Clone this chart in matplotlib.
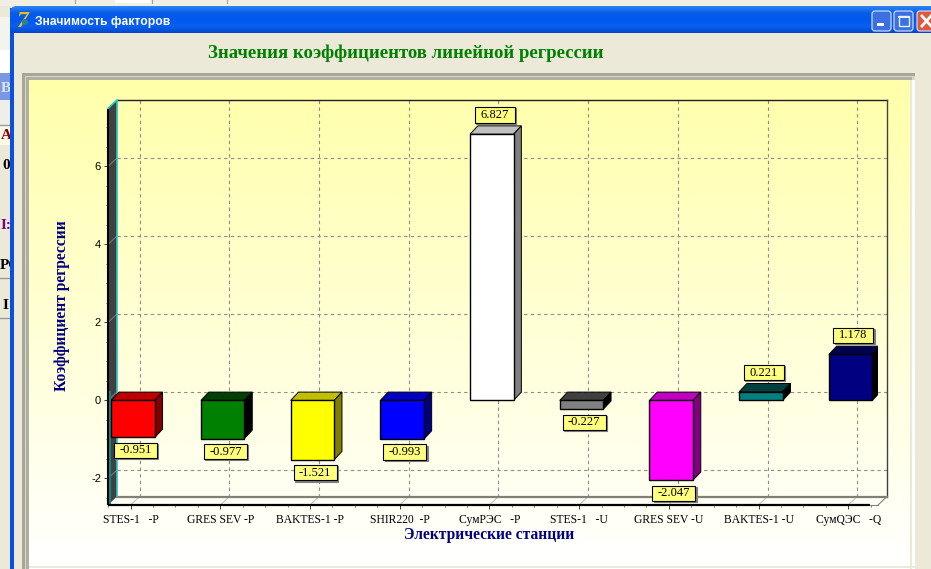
import numpy as np
import matplotlib
matplotlib.use("Agg")
import matplotlib.pyplot as plt
from matplotlib.patches import Polygon, Rectangle, FancyBboxPatch, Circle
from matplotlib.colors import LinearSegmentedColormap
from matplotlib.ticker import MultipleLocator

plt.rcParams['font.family'] = ['Liberation Serif', 'DejaVu Serif']
plt.rcParams['axes.unicode_minus'] = False

# ---- data ----
categories = ['STES-1   -P', 'GRES SEV -P', 'BAKTES-1 -P', 'SHIR220  -P', 'СумРЭС   -P',
              'STES-1   -U', 'GRES SEV -U', 'BAKTES-1 -U', 'СумQЭС   -Q']
values = [-0.951, -0.977, -1.521, -0.993, 6.827, -0.227, -2.047, 0.221, 1.178]
labels = ['-0.951', '-0.977', '-1.521', '-0.993', '6.827', '-0.227', '-2.047', '0.221', '1.178']
front_colors = ['#FF0000', '#008000', '#FFFF00', '#0000FF', '#FFFFFF', '#808080', '#FF00FF', '#008080', '#000080']
top_colors = ['#C00000', '#004000', '#C0C000', '#0000C0', '#C0C0C0', '#404040', '#C000C0', '#004040', '#000050']
side_colors = ['#800000', '#000000', '#808000', '#000080', '#808080', '#000000', '#800080', '#000000', '#000000']
y_ticks = [-2, 0, 2, 4, 6]

W, H = 931, 569
fig = plt.figure(figsize=(W / 100, H / 100), dpi=100)
fig.patch.set_facecolor('#ECE9D8')

# ---- window chrome, in pixel coordinates ----
bg = fig.add_axes([0, 0, 1, 1], zorder=0)
bg.set_axis_off()


def rect(x0, y0, x1, y1, color, z=1, **kw):
    bg.add_patch(Rectangle((x0, y0), x1 - x0, y1 - y0, fc=color, ec='none', zorder=z, **kw))


# what shows of the application behind the window
rect(0, 0, 931, 6, '#F1EFE4', 1)
rect(115, 0, 150, 3, '#FFFFFF', 1)
for xv, yv in [(75, 3), (152, 3), (227, 3)]:
    bg.plot([xv, xv], [0, yv], color='#A0A0A0', lw=0.8, zorder=2)
rect(0, 17, 10, 50, '#F3F3F0', 1)
rect(0, 50, 10, 73, '#FFFFFF', 1)
rect(0, 73, 10, 100, '#7C97E2', 1)
rect(0, 100, 10, 125, '#EFEFEA', 1)
rect(0, 125, 10, 145, '#FFFBE6', 1)
for yv in (125, 278, 318):
    bg.plot([0, 10], [yv, yv], color='#9A9A90', lw=1, zorder=2)
for s, x, y, c in [('Ba', 1, 88, '#DDE6FF'), ('AF', 1, 135, '#8B0000'), ('0', 2, 165, 'black'),
                   ('I:', 1, 225, '#800080'), ('PC', 0, 265, 'black'), ('I', 3, 305, 'black')]:
    bg.text(x, y, s, color=c, fontsize=11, fontweight='bold', va='center', ha='left', zorder=2)

# window body
rect(10, 8, 931, 569, '#0A50E0', 3)
rect(14, 33, 931, 569, '#ECE9D8', 4)

# title bar gradient
bar_cm = LinearSegmentedColormap.from_list('bar', ['#2C86F5', '#0A5CE8', '#0058EE', '#0A60F0', '#0048CC'])
tb = bg.imshow(np.linspace(0, 1, 64)[:, None], cmap=bar_cm, extent=(10, 931, 33, 6), aspect='auto', zorder=5)
tb.set_clip_path(FancyBboxPatch((12, 8), 940, 40, boxstyle='round,pad=2,rounding_size=7',
                                transform=bg.transData))
# icon
bg.text(23, 21, '7', color='#E0C020', fontsize=17, fontweight='bold', style='italic',
        ha='center', va='center', zorder=6)
bg.add_patch(Circle((25, 22), 3, fc='#2F7F86', ec='none', zorder=7))
bg.text(35, 22, 'Значимость факторов', color='white', fontsize=8.7,
        family=['Liberation Sans', 'DejaVu Sans'], fontweight='bold', va='center', ha='left', zorder=6)


def button(x0, x1, face):
    bg.add_patch(FancyBboxPatch((x0 + 1, 12), x1 - x0 - 2, 18, boxstyle='round,pad=1,rounding_size=3',
                                fc=face, ec='#C8D8F8', lw=0.9, zorder=6))


button(872, 891, '#3C6FE0')
button(894, 913, '#3C6FE0')
button(917, 937, '#E0593A')
rect(877, 23, 884, 26, 'white', 7)
bg.add_patch(Rectangle((898.5, 16), 10.5, 10, fc='none', ec='#E8F0FF', lw=1, zorder=7))
rect(898, 16, 910, 18, '#E8F0FF', 7)
bg.plot([922, 931], [16, 26], color='white', lw=2, zorder=7)
bg.plot([922, 931], [26, 16], color='white', lw=2, zorder=7)

# chart panel frame and gradient
rect(22, 73, 915, 569, '#A8A698', 5)
rect(25, 76, 915, 569, '#D8D6C8', 5)
rect(26, 77, 912, 569, '#B0AE9F', 5)
rect(29, 80, 915, 569, '#FFFFFF', 6)
panel_cm = LinearSegmentedColormap.from_list('panel', ['#FFFFAA', '#FFFFFF'])
bg.imshow(np.linspace(0, 1, 256)[:, None], cmap=panel_cm, extent=(29, 910, 566, 80), aspect='auto', zorder=7)
rect(910, 80, 912, 569, '#ECE9D8', 7)
rect(29, 566, 915, 568, '#ECE9D8', 7)

bg.text(405.5, 53, 'Значения коэффициентов линейной регрессии', color='#008000', fontsize=13.5,
        fontweight='bold', ha='center', va='center', zorder=8)
bg.set_xlim(0, W)
bg.set_ylim(H, 0)

# ---- chart: front plane carries the value scale, back plane is shifted by the depth ----
PX_X, PX_Y = 89.7, 39.0      # pixels per category / per unit
ax = fig.add_axes([108 / W, (H - 505) / H, 770 / W, 396.5 / H], zorder=2)
ax.patch.set_alpha(0)
ax.set_xlim(-0.252, 8.332)
ax.set_ylim(-2.682, 7.485)
for s in ax.spines.values():
    s.set_visible(False)
DX, DY = 9 / PX_X, 8.5 / PX_Y
x0, x1 = ax.get_xlim()
y0, y1 = ax.get_ylim()

# walls
ax.add_patch(Polygon([(x0, y0), (x1, y0), (x1 + DX, y0 + DY), (x0 + DX, y0 + DY)], fc='#FFFFF4', ec='none',
                     clip_on=False, zorder=1))
ax.add_patch(Polygon([(x0, y0), (x0, y1), (x0 + DX, y1 + DY), (x0 + DX, y0 + DY)], fc='#404040', ec='none',
                     clip_on=False, zorder=3))

# grid on the back plane
grid = dict(color='#8C8C8C', lw=0.8, dashes=(3, 3), clip_on=False, zorder=2)
for t in y_ticks:
    ax.plot([x0 + DX, x1 + DX], [t + DY, t + DY], **grid)
    ax.plot([x0, x0 + DX], [t, t + DY], color='#808080', lw=0.7, clip_on=False, zorder=4)
for i in range(len(categories)):
    ax.plot([i + DX, i + DX], [y0 + DY, y1 + DY], **grid)
    ax.plot([i, i + DX], [y0, y0 + DY], color='#C0C0C0', lw=0.7, clip_on=False, zorder=2)

# frame lines
ax.plot([x0 + DX, x1 + DX], [y1 + DY, y1 + DY], color='#202020', lw=1.0, clip_on=False, zorder=2)
ax.plot([x1 + DX, x1 + DX], [y0 + DY, y1 + DY], color='#404040', lw=1.0, clip_on=False, zorder=2)
ax.plot([x0 + DX, x1 + DX], [y0 + DY, y0 + DY], color='#808078', lw=1.6, clip_on=False, zorder=2)
ax.plot([x1 - DX * 0.9, x1], [y0, y0], color='#808080', lw=0.8, clip_on=False, zorder=2)
ax.plot([x1, x1 + DX], [y0, y0 + DY], color='#808080', lw=0.8, clip_on=False, zorder=2)
ax.plot([x0, x1 - DX * 0.9], [y0, y0], color='black', lw=1.6, clip_on=False, zorder=6, solid_capstyle='butt')
ax.plot([x0, x0], [y0, y1], color='black', lw=1.5, clip_on=False, zorder=6, solid_capstyle='butt')
ax.plot([x0 + DX, x0 + DX], [y0 + DY, y1 + DY], color='#22C8C8', lw=1.2, clip_on=False, zorder=5,
        solid_capstyle='butt')
ax.plot([x0, x0 + DX], [y1, y1 + DY], color='#22C8C8', lw=1.2, clip_on=False, zorder=5)
ax.plot([x0 + 1.8 / PX_X] * 2, [y0, 0.25], color='#108888', lw=1.4, clip_on=False, zorder=5,
        solid_capstyle='butt')

# 3-D bars
BAR_W = 43.5 / PX_X
BAR_SHIFT = 2.4 / PX_X
BX, BY = 7.8 / PX_X, 8.3 / PX_Y
positions = np.arange(len(values)) + BAR_SHIFT
ax.bar(positions, values, width=BAR_W, color=front_colors, edgecolor='black', linewidth=1, zorder=8)
for x, v, tc, sc in zip(positions, values, top_colors, side_colors):
    lo, hi = min(0, v), max(0, v)
    l, r = x - BAR_W / 2, x + BAR_W / 2
    ax.add_patch(Polygon([(l, hi), (r, hi), (r + BX, hi + BY), (l + BX, hi + BY)], fc=tc, ec='black', lw=0.7, zorder=7))
    ax.add_patch(Polygon([(r, lo), (r, hi), (r + BX, hi + BY), (r + BX, lo + BY)], fc=sc, ec='black', lw=0.7, zorder=7))

# value marks with leader lines
fig.canvas.draw()
for x, v, s in zip(positions, values, labels):
    px, py = ax.transData.transform((x, v))
    cy = py + (19.2 if v > 0 else -13)
    cx = px + 2.7
    w = 40 if v > 0 else 43
    leader = '#303030' if v > 0 else 'white'
    if v > 0:
        y_a, y_b = py + 2.5, cy - 8
    else:
        y_a, y_b = py + 4, py - 0.5
    fig.add_artist(plt.Line2D([cx + 1, cx + 1], [y_a / H, y_b / H], transform=fig.transFigure, color=leader,
                              lw=0.9, zorder=9))
    for (ox, oy, fc, ec) in [(1.2, -1.2, '#808080', '#808080'), (0, 0, '#FFFF80', 'black')]:
        fig.add_artist(Rectangle((cx - w / 2 + ox, cy - 7.7 + oy), w, 15.4, transform=None,
                                 fc=fc, ec=ec, lw=0.8, zorder=10))
    fig.text(cx / W, cy / H, s, ha='center', va='center', fontsize=9, color='black', zorder=11)

# axes
ax.set_xticks(np.arange(len(categories)), categories, fontsize=8.4)
ax.set_yticks(y_ticks)
ax.xaxis.set_minor_locator(MultipleLocator(0.25))
ax.yaxis.set_minor_locator(MultipleLocator(0.5))
ax.tick_params(axis='both', which='major', length=3, width=0.7, color='#404040', pad=2)
ax.tick_params(axis='both', which='minor', length=1.5, width=0.6, color='#606060')
ax.tick_params(axis='x', which='major', pad=3.5)
for lab in ax.get_yticklabels():
    lab.set_family(['Liberation Sans', 'DejaVu Sans'])
    lab.set_fontsize(8)

fig.text(489 / W, 1 - 535 / H, 'Электрические станции', color='#000080', fontsize=11.2, fontweight='bold',
         ha='center', va='center')
fig.text(62 / W, 1 - 306 / H, 'Коэффициент регрессии', color='#000080', fontsize=11.2, fontweight='bold',
         rotation=90, ha='center', va='center')

fig.savefig('out.png', dpi=100, facecolor=fig.get_facecolor())
